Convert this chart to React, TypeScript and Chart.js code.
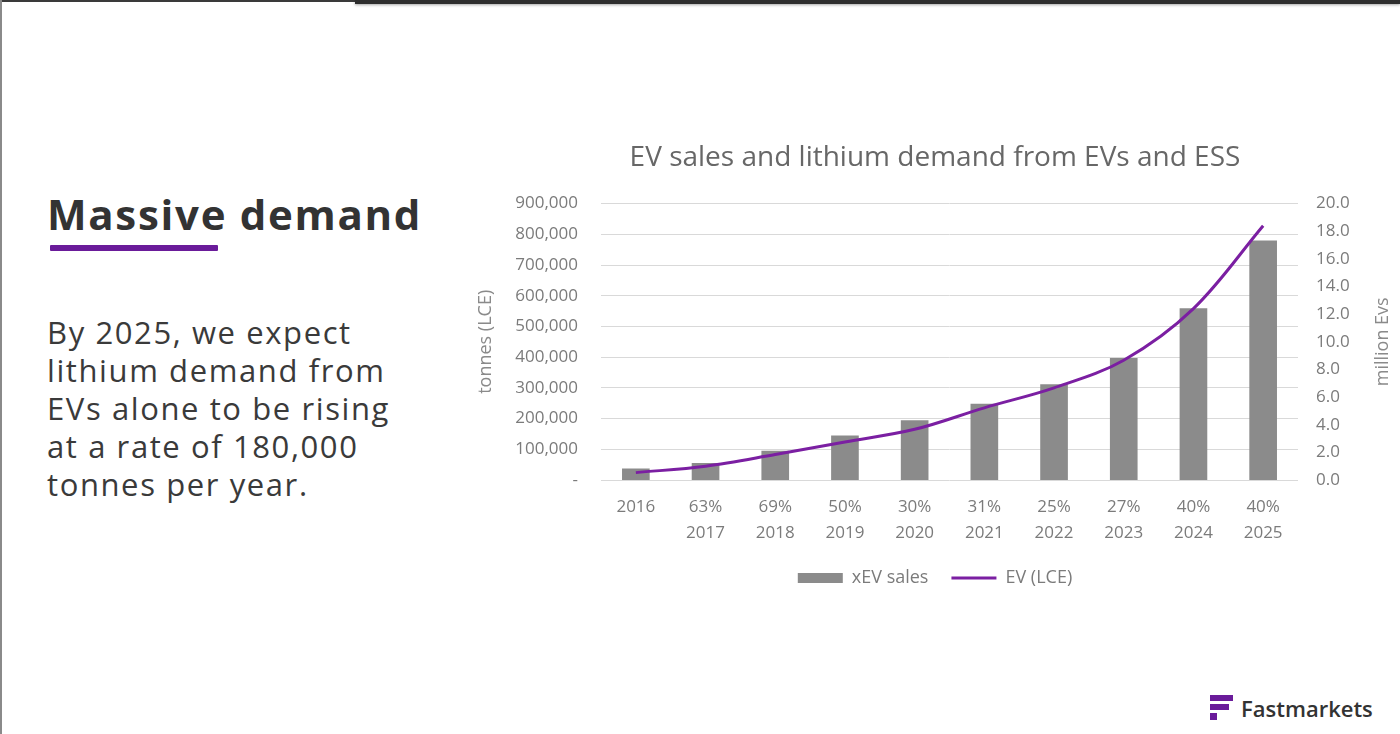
import React, { useEffect, useRef } from "react";
import { Chart, registerables } from "chart.js";

Chart.register(...registerables);

const chartTitle = "EV sales and lithium demand from EVs and ESS";
const years = ["2016", "2017", "2018", "2019", "2020", "2021", "2022", "2023", "2024", "2025"];
const growthLabels = ["", "63%", "69%", "50%", "30%", "31%", "25%", "27%", "40%", "40%"];
// xEV sales, million EVs (right axis)
const xevSales = [0.8, 1.2, 2.1, 3.2, 4.3, 5.5, 6.9, 8.8, 12.4, 17.3];
// Lithium demand from EVs, tonnes LCE (left axis)
const evLce = [24000, 45000, 83000, 124000, 165000, 235000, 300000, 390000, 558000, 828000];
const leftTitle = "tonnes (LCE)";
const rightTitle = "million Evs";
const seriesNames = ["xEV sales", "EV (LCE)"];

const FONT = "'Open Sans', sans-serif";
const TICK = "#7b7b7b";

const rightTitlePlugin = {
  id: "rightTitle",
  afterDraw(chart: any) {
    const s = chart.scales.y1;
    const ca = chart.chartArea;
    const ctx = chart.ctx;
    ctx.save();
    ctx.translate(s.right - 17, (ca.top + ca.bottom) / 2);
    ctx.rotate(-Math.PI / 2);
    ctx.textAlign = "center";
    ctx.textBaseline = "middle";
    ctx.fillStyle = "#8a8a8a";
    ctx.font = `18px ${FONT}`;
    ctx.fillText(rightTitle, 0, 0);
    ctx.restore();
  },
};

function EvChart() {
  const ref = useRef<HTMLCanvasElement | null>(null);
  useEffect(() => {
    if (!ref.current) return;
    const labels = years.map((y, i) => (growthLabels[i] ? [growthLabels[i], y] : [y, ""]));
    const chart = new Chart(ref.current, {
      type: "bar",
      data: {
        labels,
        datasets: [
          {
            type: "bar",
            label: seriesNames[0],
            data: xevSales,
            yAxisID: "y1",
            backgroundColor: "#8b8b8b",
            borderWidth: 0,
            barThickness: 27,
            order: 1,
            pointStyle: "rect",
          } as any,
          {
            type: "line",
            label: seriesNames[1],
            data: evLce,
            yAxisID: "y",
            borderColor: "#7b1fa2",
            backgroundColor: "#7b1fa2",
            borderWidth: 3,
            pointRadius: 0,
            tension: 0.35,
            order: 0,
            pointStyle: "line",
          } as any,
        ],
      },
      options: {
        animation: false,
        responsive: false,
        maintainAspectRatio: false,
        layout: { padding: 0 },
        plugins: {
          tooltip: { enabled: false },
          title: {
            display: true,
            text: chartTitle,
            color: "#676767",
            font: { family: FONT, size: 28, weight: "normal" },
            padding: { top: 11, bottom: 29 },
          },
          legend: {
            position: "bottom",
            labels: {
              usePointStyle: true,
              pointStyleWidth: 45,
              boxHeight: 10,
              padding: 23,
              color: TICK,
              font: { family: FONT, size: 18 },
              sort: (a: any, b: any) => a.datasetIndex - b.datasetIndex,
            },
          },
        },
        scales: {
          x: {
            grid: { display: false, drawTicks: false },
            border: { display: false },
            ticks: {
              padding: 14,
              color: TICK,
              font: { family: FONT, size: 17, lineHeight: 1.53 },
              maxRotation: 0,
              autoSkip: false,
            },
            afterFit(s: any) {
              s.height = 66;
            },
          },
          y: {
            position: "left",
            min: 0,
            max: 900000,
            ticks: {
              stepSize: 100000,
              padding: 23,
              color: TICK,
              font: { family: FONT, size: 17 },
              callback: (v: any) => (Number(v) === 0 ? "-" : Number(v).toLocaleString("en-US")),
            },
            grid: { color: "#d9d9d9", drawTicks: false },
            border: { display: false },
            title: {
              display: true,
              text: leftTitle,
              color: "#8a8a8a",
              font: { family: FONT, size: 18 },
              padding: 5,
            },
            afterFit(s: any) {
              s.width = 131;
            },
          },
          y1: {
            position: "right",
            min: 0,
            max: 20,
            ticks: {
              stepSize: 2,
              padding: 18,
              color: TICK,
              font: { family: FONT, size: 17 },
              callback: (v: any) => Number(v).toFixed(1),
            },
            grid: { display: false, drawTicks: false },
            border: { display: false },
            afterFit(s: any) {
              s.width = 102;
            },
          },
        },
      } as any,
      plugins: [rightTitlePlugin],
    });
    return () => chart.destroy();
  }, []);
  return <canvas ref={ref} width={930} height={467} style={{ position: "absolute", left: 470, top: 130, width: 930, height: 467 }} />;
}

export default function App() {
  const text = "#3a3a3a";
  const bodyLines = [
    "By 2025, we expect",
    "lithium demand from",
    "EVs alone to be rising",
    "at a rate of 180,000",
    "tonnes per year.",
  ];
  return (
    <div
      style={{
        position: "absolute",
        left: 0,
        top: 0,
        width: 1400,
        height: 734,
        overflow: "hidden",
        background: "#ffffff",
        fontFamily: FONT,
      }}
    >
      <div style={{ position: "absolute", left: 0, top: 0, width: 1400, height: 2, background: "#3a3a3a" }} />
      <div style={{ position: "absolute", left: 355, top: 0, width: 1045, height: 4, background: "#2e2e2e", boxShadow: "0 1px 3px rgba(0,0,0,0.35)" }} />
      <div style={{ position: "absolute", left: 0, top: 0, width: 2, height: 734, background: "#8a8a8a" }} />
      <div
        style={{
          position: "absolute",
          left: 47,
          top: 186,
          fontSize: 42,
          fontWeight: 700,
          color: "#333333",
          lineHeight: "56px",
          whiteSpace: "nowrap",
          letterSpacing: 1.7,
        }}
      >
        Massive demand
      </div>
      <div style={{ position: "absolute", left: 50, top: 245, width: 168, height: 6, background: "#6a1b9a", borderRadius: 1 }} />
      <div
        style={{
          position: "absolute",
          left: 47,
          top: 313,
          fontSize: 31,
          color: text,
          lineHeight: "38px",
          whiteSpace: "nowrap",
          letterSpacing: 1.6,
        }}
      >
        {bodyLines.map((l) => (
          <div key={l}>{l}</div>
        ))}
      </div>
      <EvChart />
      <div style={{ position: "absolute", left: 1210, top: 695, width: 23, height: 6, background: "#6a1b9a" }} />
      <div style={{ position: "absolute", left: 1210, top: 704, width: 19, height: 6, background: "#6a1b9a" }} />
      <div style={{ position: "absolute", left: 1210, top: 713, width: 7, height: 7, background: "#6a1b9a" }} />
      <div
        style={{
          position: "absolute",
          left: 1241,
          top: 693,
          fontSize: 22,
          fontWeight: 600,
          color: "#333333",
          lineHeight: "30px",
          whiteSpace: "nowrap",
        }}
      >
        Fastmarkets
      </div>
    </div>
  );
}
